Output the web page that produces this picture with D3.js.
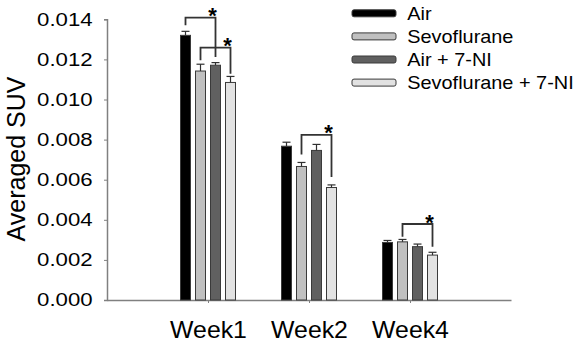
<!DOCTYPE html>
<html>
<head>
<meta charset="utf-8">
<script src="https://cdn.jsdelivr.net/npm/d3@7"></script>
<style>
  body { margin: 0; background: #fff; }
  text { font-family: "Liberation Sans", Arial, sans-serif; fill: #000; }
</style>
</head>
<body>
<div id="chart"></div>
<script>
// Data
const weeks = ["Week1", "Week2", "Week4"];
const series = ["Air", "Sevoflurane", "Air + 7-NI", "Sevoflurane + 7-NI"];
const airValues = [0.0132, 0.00767, 0.00287];
const airErrors = [0.0002, 0.0002, 0.0001];
const sevoValues = [0.01142, 0.00666, 0.0029];
const sevoErrors = [0.00034, 0.0002, 0.00012];
const air7Values = [0.01171, 0.00746, 0.00266];
const air7Errors = [0.00013, 0.0003, 0.00013];
const sevo7Values = [0.01085, 0.00561, 0.00224];
const sevo7Errors = [0.0003, 0.00013, 0.00014];
const yTicks = [0, 0.002, 0.004, 0.006, 0.008, 0.010, 0.012, 0.014];

// significance brackets: week, from series, to series, top, left leg end, right leg end
const brackets = [
    { week: "Week1", from: "Air", to: "Air + 7-NI", top: 0.01408, left: 0.0137, right: 0.01212 },
    { week: "Week1", from: "Sevoflurane", to: "Sevoflurane + 7-NI", top: 0.01259, left: 0.01196, right: 0.01129 },
    { week: "Week2", from: "Sevoflurane", to: "Sevoflurane + 7-NI", top: 0.00824, left: 0.00726, right: 0.00614 },
    { week: "Week4", from: "Sevoflurane", to: "Sevoflurane + 7-NI", top: 0.00379, left: 0.00315, right: 0.00266 }
];

const allValues = [airValues, sevoValues, air7Values, sevo7Values];
const allErrors = [airErrors, sevoErrors, air7Errors, sevo7Errors];
const colors = ["#000000", "#c0c0c0", "#606060", "#e2e2e2"];

const bars = [];
series.forEach((s, i) => {
    weeks.forEach((w, j) => {
        bars.push({ series: s, week: w, value: allValues[i][j], err: allErrors[i][j], color: colors[i] });
    });
});

// Dimensions
const width = 579, height = 346;

const svg = d3.select("#chart")
    .append("svg")
    .attr("width", width)
    .attr("height", height);

// Scales
const x0 = d3.scalePoint()
    .domain(weeks)
    .range([107, 511])
    .padding(1);

const x1 = d3.scaleBand()
    .domain(series)
    .range([-28, 28])
    .paddingInner(4 / 15);

const y = d3.scaleLinear()
    .domain([0, 0.014])
    .range([300, 19.3]);

// Y Axis
const yAxis = svg.append("g")
    .attr("transform", "translate(107,0)")
    .call(d3.axisLeft(y).tickValues(yTicks).tickFormat(d3.format(".3f")).tickSize(3).tickPadding(0));
yAxis.select(".domain").attr("stroke", "#808080").attr("stroke-width", 1.5);
yAxis.selectAll(".tick line").attr("stroke", "#808080");
yAxis.selectAll(".tick text")
    .attr("x", -12)
    .attr("transform", "scale(1.2,1)")
    .style("font-size", "18.5px")
    .attr("fill", "#000");

// X Axis
const xAxis = svg.append("g")
    .attr("transform", "translate(0,300)")
    .call(d3.axisBottom(x0).tickSize(3).tickSizeOuter(0));
xAxis.select(".domain").attr("stroke", "#808080").attr("stroke-width", 1.5);
xAxis.selectAll(".tick line").attr("stroke", "#808080");
xAxis.selectAll(".tick text")
    .attr("y", 37.7)
    .attr("dy", 0)
    .attr("transform", "scale(1.08,1)")
    .style("font-size", "23px")
    .attr("fill", "#000");

// Y axis title
svg.append("text")
    .attr("transform", "translate(25,159) rotate(-90)")
    .attr("text-anchor", "middle")
    .style("font-size", "25px")
    .text("Averaged SUV");

// Bars
const bx = d => x0(d.week) + x1(d.series);

svg.selectAll(".bar")
    .data(bars)
    .enter().append("rect")
    .attr("class", "bar")
    .attr("x", d => bx(d) + 0.5)
    .attr("y", d => y(d.value))
    .attr("width", x1.bandwidth() - 1)
    .attr("height", d => y(0) - y(d.value))
    .attr("fill", d => d.color)
    .attr("stroke", "#3a3a3a")
    .attr("stroke-width", 1);

// Error bars (upper only)
const eb = svg.append("g").attr("stroke", "#303030").attr("stroke-width", 1.2);
eb.selectAll(".err")
    .data(bars)
    .enter().append("line")
    .attr("x1", d => bx(d) + x1.bandwidth() / 2)
    .attr("x2", d => bx(d) + x1.bandwidth() / 2)
    .attr("y1", d => y(d.value))
    .attr("y2", d => y(d.value + d.err));
eb.selectAll(".cap")
    .data(bars)
    .enter().append("line")
    .attr("x1", d => bx(d) + x1.bandwidth() / 2 - 4)
    .attr("x2", d => bx(d) + x1.bandwidth() / 2 + 4)
    .attr("y1", d => y(d.value + d.err))
    .attr("y2", d => y(d.value + d.err));

// Significance brackets
const cx = (w, s) => x0(w) + x1(s) + x1.bandwidth() / 2;
svg.selectAll(".bracket")
    .data(brackets)
    .enter().append("path")
    .attr("fill", "none")
    .attr("stroke", "#333")
    .attr("stroke-width", 1.8)
    .attr("d", d => `M${cx(d.week, d.from)},${y(d.left)}V${y(d.top)}H${cx(d.week, d.to)}V${y(d.right)}`);

svg.selectAll(".star")
    .data(brackets)
    .enter().append("text")
    .attr("x", d => cx(d.week, d.to) - 3)
    .attr("y", d => y(d.top) + 5.5)
    .attr("text-anchor", "middle")
    .style("font-size", "22px")
    .style("font-weight", "bold")
    .text("*");

// Legend
const legend = svg.selectAll(".legend")
    .data(series)
    .enter().append("g")
    .attr("transform", (d, i) => `translate(0,${13.3 + i * 23.1})`);

legend.append("rect")
    .attr("x", 352)
    .attr("y", -3.5)
    .attr("width", 44)
    .attr("height", 7)
    .attr("rx", 2)
    .attr("fill", (d, i) => colors[i])
    .attr("stroke", "#3a3a3a")
    .attr("stroke-width", 1);

legend.append("text")
    .attr("x", 407.3 / 1.07)
    .attr("y", 6.6)
    .attr("transform", "scale(1.07,1)")
    .style("font-size", "18.6px")
    .text(d => d);
</script>
</body>
</html>
